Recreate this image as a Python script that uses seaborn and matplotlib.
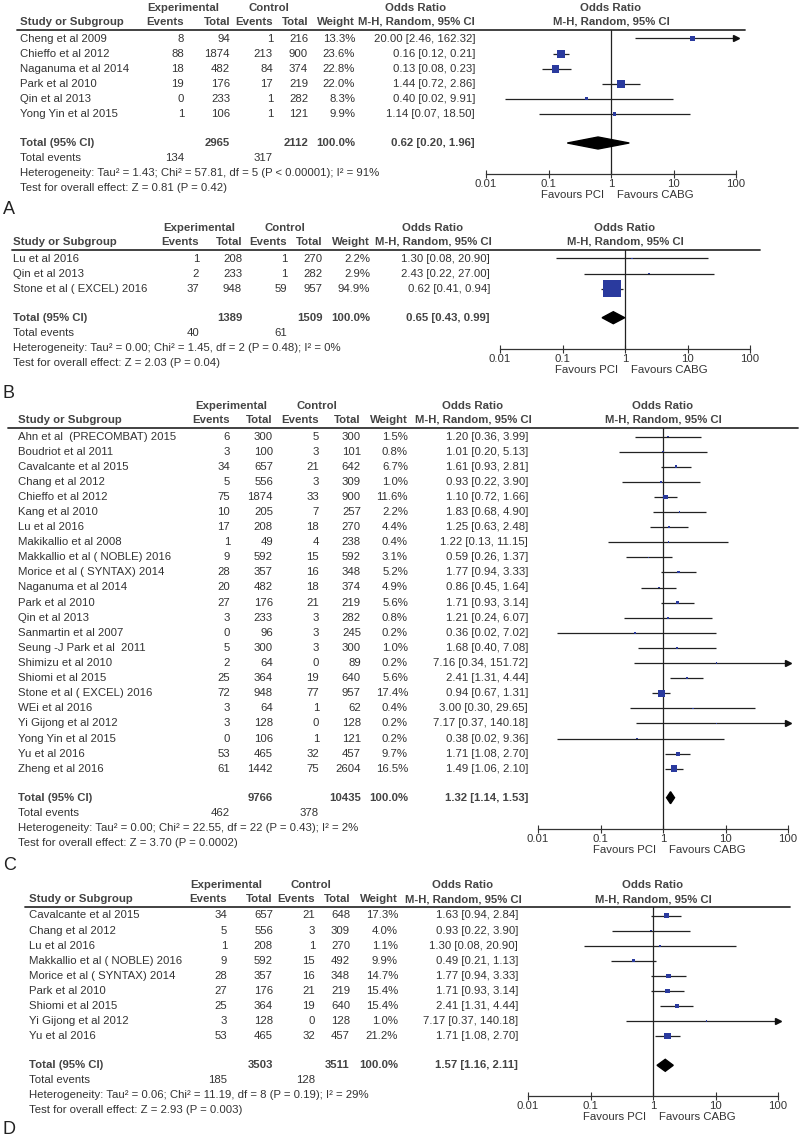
import matplotlib.pyplot as plt
import matplotlib.ticker as mticker
import seaborn as sns
import pandas as pd

# ---------------- panel A ----------------
studies_a = ["Cheng et al 2009", "Chieffo et al 2012", "Naganuma et al 2014",
             "Park et al 2010", "Qin et al 2013", "Yong Yin et al 2015"]
exp_events_a = [8, 88, 18, 19, 0, 1]
exp_total_a = [94, 1874, 482, 176, 233, 106]
ctl_events_a = [1, 213, 84, 17, 1, 1]
ctl_total_a = [216, 900, 374, 219, 282, 121]
weight_a = [13.3, 23.6, 22.8, 22.0, 8.3, 9.9]
or_a = [20.00, 0.16, 0.13, 1.44, 0.40, 1.14]
lo_a = [2.46, 0.12, 0.08, 0.72, 0.02, 0.07]
hi_a = [162.32, 0.21, 0.23, 2.86, 9.91, 18.50]
summary_a = [0.62, 0.20, 1.96]
totals_a = [2965, 2112, 134, 317]
het_a = "Heterogeneity: Tau\u00b2 = 1.43; Chi\u00b2 = 57.81, df = 5 (P < 0.00001); I\u00b2 = 91%"
test_a = "Test for overall effect: Z = 0.81 (P = 0.42)"

# ---------------- panel B ----------------
studies_b = ["Lu et al 2016", "Qin et al 2013", "Stone et al ( EXCEL) 2016"]
exp_events_b = [1, 2, 37]
exp_total_b = [208, 233, 948]
ctl_events_b = [1, 1, 59]
ctl_total_b = [270, 282, 957]
weight_b = [2.2, 2.9, 94.9]
or_b = [1.30, 2.43, 0.62]
lo_b = [0.08, 0.22, 0.41]
hi_b = [20.90, 27.00, 0.94]
summary_b = [0.65, 0.43, 0.99]
totals_b = [1389, 1509, 40, 61]
het_b = "Heterogeneity: Tau\u00b2 = 0.00; Chi\u00b2 = 1.45, df = 2 (P = 0.48); I\u00b2 = 0%"
test_b = "Test for overall effect: Z = 2.03 (P = 0.04)"

# ---------------- panel C ----------------
studies_c = ["Ahn et al  (PRECOMBAT) 2015", "Boudriot et al 2011", "Cavalcante et al 2015",
             "Chang et al 2012", "Chieffo et al 2012", "Kang et al 2010", "Lu et al 2016",
             "Makikallio et al 2008", "Makkallio et al ( NOBLE) 2016",
             "Morice et al ( SYNTAX) 2014", "Naganuma et al 2014", "Park et al 2010",
             "Qin et al 2013", "Sanmartin et al 2007", "Seung -J Park et al  2011",
             "Shimizu et al 2010", "Shiomi et al 2015", "Stone et al ( EXCEL) 2016",
             "WEi et al 2016", "Yi Gijong et al 2012", "Yong Yin et al 2015",
             "Yu et al 2016", "Zheng et al 2016"]
exp_events_c = [6, 3, 34, 5, 75, 10, 17, 1, 9, 28, 20, 27, 3, 0, 5, 2, 25, 72, 3, 3, 0, 53, 61]
exp_total_c = [300, 100, 657, 556, 1874, 205, 208, 49, 592, 357, 482, 176, 233, 96, 300,
               64, 364, 948, 64, 128, 106, 465, 1442]
ctl_events_c = [5, 3, 21, 3, 33, 7, 18, 4, 15, 16, 18, 21, 3, 3, 3, 0, 19, 77, 1, 0, 1, 32, 75]
ctl_total_c = [300, 101, 642, 309, 900, 257, 270, 238, 592, 348, 374, 219, 282, 245, 300,
               89, 640, 957, 62, 128, 121, 457, 2604]
weight_c = [1.5, 0.8, 6.7, 1.0, 11.6, 2.2, 4.4, 0.4, 3.1, 5.2, 4.9, 5.6, 0.8, 0.2, 1.0,
            0.2, 5.6, 17.4, 0.4, 0.2, 0.2, 9.7, 16.5]
or_c = [1.20, 1.01, 1.61, 0.93, 1.10, 1.83, 1.25, 1.22, 0.59, 1.77, 0.86, 1.71, 1.21,
        0.36, 1.68, 7.16, 2.41, 0.94, 3.00, 7.17, 0.38, 1.71, 1.49]
lo_c = [0.36, 0.20, 0.93, 0.22, 0.72, 0.68, 0.63, 0.13, 0.26, 0.94, 0.45, 0.93, 0.24,
        0.02, 0.40, 0.34, 1.31, 0.67, 0.30, 0.37, 0.02, 1.08, 1.06]
hi_c = [3.99, 5.13, 2.81, 3.90, 1.66, 4.90, 2.48, 11.15, 1.37, 3.33, 1.64, 3.14, 6.07,
        7.02, 7.08, 151.72, 4.44, 1.31, 29.65, 140.18, 9.36, 2.70, 2.10]
summary_c = [1.32, 1.14, 1.53]
totals_c = [9766, 10435, 462, 378]
het_c = "Heterogeneity: Tau\u00b2 = 0.00; Chi\u00b2 = 22.55, df = 22 (P = 0.43); I\u00b2 = 2%"
test_c = "Test for overall effect: Z = 3.70 (P = 0.0002)"

# ---------------- panel D ----------------
studies_d = ["Cavalcante et al 2015", "Chang et al 2012", "Lu et al 2016",
             "Makkallio et al ( NOBLE) 2016", "Morice et al ( SYNTAX) 2014",
             "Park et al 2010", "Shiomi et al 2015", "Yi Gijong et al 2012", "Yu et al 2016"]
exp_events_d = [34, 5, 1, 9, 28, 27, 25, 3, 53]
exp_total_d = [657, 556, 208, 592, 357, 176, 364, 128, 465]
ctl_events_d = [21, 3, 1, 15, 16, 21, 19, 0, 32]
ctl_total_d = [648, 309, 270, 492, 348, 219, 640, 128, 457]
weight_d = [17.3, 4.0, 1.1, 9.9, 14.7, 15.4, 15.4, 1.0, 21.2]
or_d = [1.63, 0.93, 1.30, 0.49, 1.77, 1.71, 2.41, 7.17, 1.71]
lo_d = [0.94, 0.22, 0.08, 0.21, 0.94, 0.93, 1.31, 0.37, 1.08]
hi_d = [2.84, 3.90, 20.90, 1.13, 3.33, 3.14, 4.44, 140.18, 2.70]
summary_d = [1.57, 1.16, 2.11]
totals_d = [3503, 3511, 185, 128]
het_d = "Heterogeneity: Tau\u00b2 = 0.06; Chi\u00b2 = 11.19, df = 8 (P = 0.19); I\u00b2 = 29%"
test_d = "Test for overall effect: Z = 2.93 (P = 0.003)"

# layout of each panel, in pixels of the 800x1137 page
# box = pixels of square side per 1% of weight (RevMan-like scaling)
layouts = {
    "A": dict(rule=30, name_x=20, cols=(184, 230, 273, 308, 355), or_x=475, or_hdr=416,
              exp_hdr=183, ctl_hdr=269, forest=486, rule_x=(17, 745), label_y=210, box=0.34),
    "B": dict(rule=250, name_x=13, cols=(199, 242, 287, 323, 370), or_x=490, or_hdr=433,
              exp_hdr=199, ctl_hdr=285, forest=500, rule_x=(12, 760), label_y=393, box=0.18),
    "C": dict(rule=428, name_x=18, cols=(230, 273, 319, 361, 408), or_x=528, or_hdr=473,
              exp_hdr=231, ctl_hdr=317, forest=538, rule_x=(8, 798), label_y=865, box=0.40),
    "D": dict(rule=907, name_x=29, cols=(227, 273, 315, 350, 398), or_x=518, or_hdr=463,
              exp_hdr=226, ctl_hdr=311, forest=528, rule_x=(25, 790), label_y=1130, box=0.29),
}

panels = {
    "A": (studies_a, exp_events_a, exp_total_a, ctl_events_a, ctl_total_a, weight_a,
          or_a, lo_a, hi_a, summary_a, totals_a, het_a, test_a),
    "B": (studies_b, exp_events_b, exp_total_b, ctl_events_b, ctl_total_b, weight_b,
          or_b, lo_b, hi_b, summary_b, totals_b, het_b, test_b),
    "C": (studies_c, exp_events_c, exp_total_c, ctl_events_c, ctl_total_c, weight_c,
          or_c, lo_c, hi_c, summary_c, totals_c, het_c, test_c),
    "D": (studies_d, exp_events_d, exp_total_d, ctl_events_d, ctl_total_d, weight_d,
          or_d, lo_d, hi_d, summary_d, totals_d, het_d, test_d),
}

W, H = 800, 1137
FS = 8.2
TXT = "#333333"
HDR = "#444444"
BLUE = "#2a3a9e"
ROW = 15.1

sns.set_theme(style="white")
plt.rcParams["font.family"] = ["Liberation Sans", "DejaVu Sans"]
plt.rcParams["text.color"] = TXT

fig = plt.figure(figsize=(W / 100, H / 100), dpi=100)
tab = fig.add_axes([0, 0, 1, 1])
tab.set_xlim(0, W)
tab.set_ylim(H, 0)
tab.axis("off")


def txt(x, y, s, ha="left", bold=False, size=FS):
    tab.text(x, y, s, ha=ha, va="center", fontsize=size,
             fontweight="bold" if bold else "normal", color=HDR if bold else TXT)


def draw_panel(key):
    (names, ee, et, ce, ct, wt, orr, lo, hi, summ, tots, het, test) = panels[key]
    lay = layouts[key]
    rule = lay["rule"]
    c = lay["cols"]
    fc = lay["forest"] + 125
    ys = [rule + 8.5 + i * ROW for i in range(len(names))]
    y_tot = ys[-1] + 29
    y_axis = y_tot + 31

    # headers
    txt(lay["exp_hdr"], rule - 22, "Experimental", "center", True)
    txt(lay["ctl_hdr"], rule - 22, "Control", "center", True)
    txt(lay["or_hdr"], rule - 22, "Odds Ratio", "center", True)
    txt(fc, rule - 22, "Odds Ratio", "center", True)
    txt(lay["name_x"], rule - 8, "Study or Subgroup", bold=True)
    for x, s in zip(c, ["Events", "Total", "Events", "Total", "Weight"]):
        txt(x, rule - 8, s, "right", True)
    txt(lay["or_hdr"], rule - 8, "M-H, Random, 95% CI", "center", True)
    txt(fc, rule - 8, "M-H, Random, 95% CI", "center", True)
    tab.plot(lay["rule_x"], [rule, rule], color=TXT, lw=1.3)

    # study rows
    for i, y in enumerate(ys):
        txt(lay["name_x"], y, names[i])
        txt(c[0], y, str(ee[i]), "right")
        txt(c[1], y, str(et[i]), "right")
        txt(c[2], y, str(ce[i]), "right")
        txt(c[3], y, str(ct[i]), "right")
        txt(c[4], y, f"{wt[i]:.1f}%", "right")
        txt(lay["or_x"], y, f"{orr[i]:.2f} [{lo[i]:.2f}, {hi[i]:.2f}]", "right")

    # totals
    txt(lay["name_x"], y_tot, "Total (95% CI)", bold=True)
    txt(c[1], y_tot, str(tots[0]), "right", True)
    txt(c[3], y_tot, str(tots[1]), "right", True)
    txt(c[4], y_tot, "100.0%", "right", True)
    txt(lay["or_x"], y_tot, f"{summ[0]:.2f} [{summ[1]:.2f}, {summ[2]:.2f}]", "right", True)
    txt(lay["name_x"], y_tot + 15, "Total events")
    txt(c[0], y_tot + 15, str(tots[2]), "right")
    txt(c[2], y_tot + 15, str(tots[3]), "right")
    txt(lay["name_x"], y_tot + 30, het)
    txt(lay["name_x"], y_tot + 45, test)
    tab.text(3, lay["label_y"], key, ha="left", va="center", fontsize=13, color="#222222")

    # forest plot
    ax = fig.add_axes([lay["forest"] / W, 1 - y_axis / H, 250 / W, (y_axis - rule) / H])
    ax.patch.set_alpha(0)
    df = pd.DataFrame({"or": orr, "y": ys, "w": wt})
    ax.hlines(ys, lo, [min(h, 100) for h in hi], color="#222222", lw=0.9, zorder=2)
    for h, y in zip(hi, ys):
        if h > 100:
            ax.plot([100], [y], marker=">", ms=4, color="#111111", clip_on=False, zorder=3)
    # square side grows with the weight; area in points^2
    box_sizes = {w: (max(lay["box"] * w, 1.6) * 0.72) ** 2 for w in set(wt)}
    sns.scatterplot(data=df, x="or", y="y", size="w", sizes=box_sizes,
                    marker="s", color=BLUE, linewidth=0, legend=False, ax=ax, zorder=4)
    ax.fill([summ[1], summ[0], summ[2], summ[0]], [y_tot, y_tot - 6, y_tot, y_tot + 6],
            color="black", zorder=4)
    ax.axvline(1, color="#222222", lw=0.9, zorder=1)

    ax.set_xscale("log")
    ax.set_xlim(0.01, 100)
    ax.set_ylim(y_axis, rule)
    ax.xaxis.set_major_locator(mticker.FixedLocator([0.01, 0.1, 1, 10, 100]))
    ax.xaxis.set_minor_locator(mticker.NullLocator())
    ax.set_xticklabels(["0.01", "0.1", "1", "10", "100"])
    ax.set_yticks([])
    ax.set_xlabel("")
    ax.set_ylabel("")
    for s in ["left", "right", "top"]:
        ax.spines[s].set_visible(False)
    ax.spines["bottom"].set_color(TXT)
    ax.spines["bottom"].set_linewidth(0.9)
    ax.tick_params(axis="x", direction="inout", length=6, width=0.8, pad=0.5,
                   labelsize=FS, colors=TXT, bottom=True)
    ax.annotate("Favours PCI", xy=(1, 0), xycoords=("data", "axes fraction"),
                xytext=(-5, -15), textcoords="offset points", ha="right", va="center",
                fontsize=FS, color=TXT)
    ax.annotate("Favours CABG", xy=(1, 0), xycoords=("data", "axes fraction"),
                xytext=(4, -15), textcoords="offset points", ha="left", va="center",
                fontsize=FS, color=TXT)


for k in ["A", "B", "C", "D"]:
    draw_panel(k)

fig.savefig("out.png", dpi=100)
